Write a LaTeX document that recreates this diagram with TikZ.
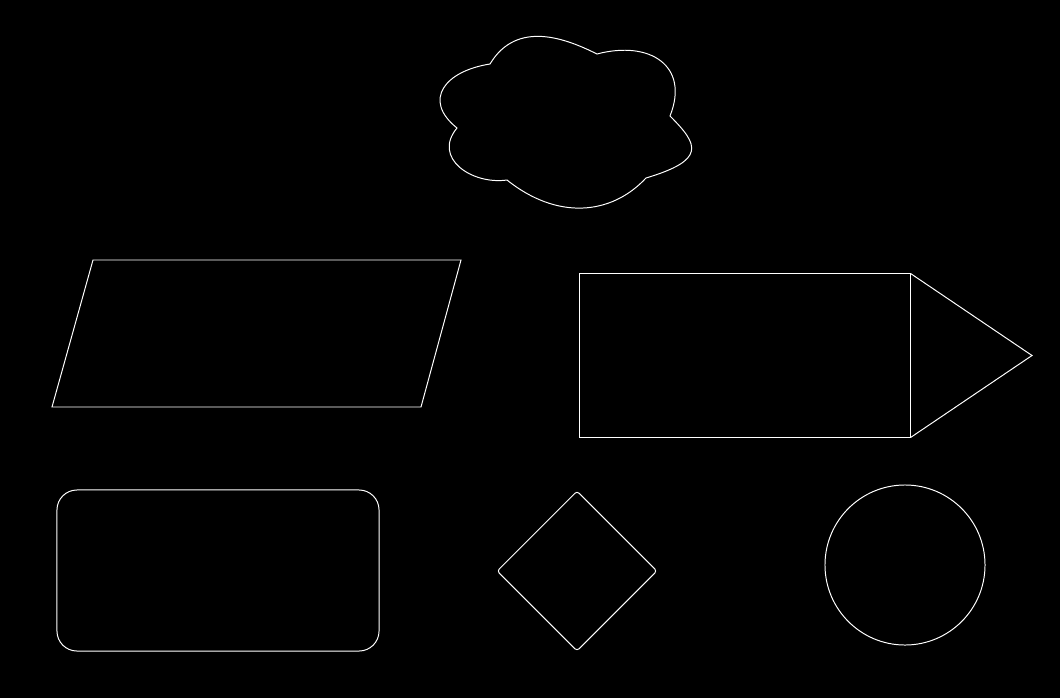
\documentclass[tikz,border=0pt]{standalone}
\usetikzlibrary{shapes.geometric}

\begin{document}
\begin{tikzpicture}[x=0.025cm, y=-0.025cm, line width=0.7pt]
	\fill[black] (0,0) rectangle (1060,698);
	\draw [white] (490,64) .. controls (517,19) and (567,39) .. (597,54)
		.. controls (650,40) and (690,66) .. (670,116)
		.. controls (699,145) and (706,160) .. (646,178)
		.. controls (611,215.5) and (557,220) .. (507,180)
		.. controls (472,185) and (432,158) .. (457,128)
		.. controls (422,100) and (445,71) .. (490,64) -- cycle;
	\draw [white] (93,260) -- (461,260) -- (421,407) -- (52,407) -- cycle;
	\node (box) [draw=white, rectangle, minimum width=8.25cm, minimum height=4.075cm] at (745,355.5) {};
	\coordinate (tip) at (1032,355.5);
	\draw [white] (box.north east) -- (tip) -- (box.south east);
	\node (rbox) [draw=white, rectangle, rounded corners=0.5cm, minimum width=8.05cm, minimum height=4.025cm] at (218,570.5) {};
	\node (dia) [draw=white, diamond, rounded corners=2pt, inner sep=0pt, minimum width=4cm, minimum height=4cm] at (577,571) {};
	\node (circ) [draw=white, circle, minimum size=4cm] at (905,565) {};
\end{tikzpicture}
\end{document}
